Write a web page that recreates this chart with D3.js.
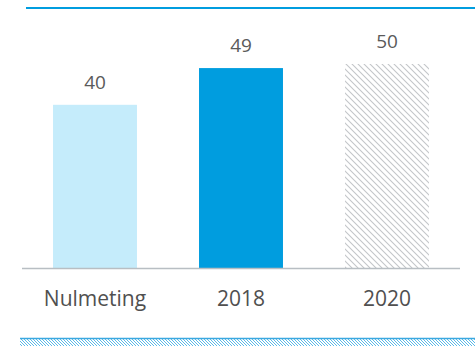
<!DOCTYPE html>
<html>
<head>
<meta charset="utf-8">
<script src="https://cdn.jsdelivr.net/npm/d3@7"></script>
<style>
  body { margin: 0; background: #fff; }
  svg { display: block; font-family: "Open Sans", sans-serif; }
</style>
</head>
<body>
<div id="chart"></div>
<script>
// data
let categories = ["Nulmeting", "2018", "2020"];
let values = [40, 49, 50];
let fills = ["#c5ecfb", "#009ddf", "url(#hatch)"];

let width = 475, height = 346;
let baseY = 268;

let svg = d3.select("#chart").append("svg")
  .attr("width", width)
  .attr("height", height);

let defs = svg.append("defs");

// grey diagonal hatch for the 2020 target bar
let hatch = defs.append("pattern")
  .attr("id", "hatch")
  .attr("patternUnits", "userSpaceOnUse")
  .attr("width", 6)
  .attr("height", 6);
hatch.append("path")
  .attr("d", "M0,0 L6,6 M-1,5 L1,7 M5,-1 L7,1")
  .attr("stroke", "#c3c6c9")
  .attr("stroke-width", 1.1);

// blue hatch for the strip at the bottom
let hatchBlue = defs.append("pattern")
  .attr("id", "hatchBlue")
  .attr("patternUnits", "userSpaceOnUse")
  .attr("width", 3)
  .attr("height", 3);
hatchBlue.append("path")
  .attr("d", "M0,0 L3,3 M-1,2 L1,4 M2,-1 L4,1")
  .attr("stroke", "#5ab9e8")
  .attr("stroke-width", 1);

let xScale = d3.scaleBand()
  .domain(categories)
  .range([22, 460])
  .paddingInner(0.425)
  .paddingOuter(0.2125);

let yScale = d3.scaleLinear()
  .domain([0, 50])
  .range([baseY, 64]);

// top rule
svg.append("line")
  .attr("x1", 26).attr("x2", width)
  .attr("y1", 8).attr("y2", 8)
  .attr("stroke", "#009ddf")
  .attr("stroke-width", 2);

// bars
svg.selectAll("rect.bar")
  .data(values)
  .enter()
  .append("rect")
  .attr("class", "bar")
  .attr("x", (d, i) => xScale(categories[i]))
  .attr("y", d => yScale(d))
  .attr("width", xScale.bandwidth())
  .attr("height", d => yScale(0) - yScale(d))
  .attr("fill", (d, i) => fills[i]);

// value labels
svg.selectAll("text.val")
  .data(values)
  .enter()
  .append("text")
  .attr("class", "val")
  .attr("x", (d, i) => xScale(categories[i]) + xScale.bandwidth() / 2)
  .attr("y", d => yScale(d) - 16)
  .attr("text-anchor", "middle")
  .attr("font-size", 19)
  .attr("fill", "#5a5a5a")
  .text(d => d);

// baseline
svg.append("line")
  .attr("x1", 22).attr("x2", 460)
  .attr("y1", baseY + 0.5).attr("y2", baseY + 0.5)
  .attr("stroke", "#b8bec3")
  .attr("stroke-width", 1.5);

// category labels
let xAxis = d3.axisBottom(xScale).tickSize(0).tickPadding(0);
let axisG = svg.append("g")
  .attr("transform", `translate(0,${baseY})`)
  .call(xAxis);
axisG.select(".domain").remove();
axisG.selectAll("text")
  .attr("font-family", "Open Sans, sans-serif")
  .attr("font-size", 21)
  .attr("fill", "#505050")
  .attr("dy", null)
  .attr("y", 38);

// bottom strip
svg.append("rect")
  .attr("x", 20).attr("y", 339)
  .attr("width", width - 20).attr("height", 7)
  .attr("fill", "url(#hatchBlue)");
svg.append("line")
  .attr("x1", 20).attr("x2", width)
  .attr("y1", 338.5).attr("y2", 338.5)
  .attr("stroke", "#3aa8e0")
  .attr("stroke-width", 1.5);
</script>
</body>
</html>
